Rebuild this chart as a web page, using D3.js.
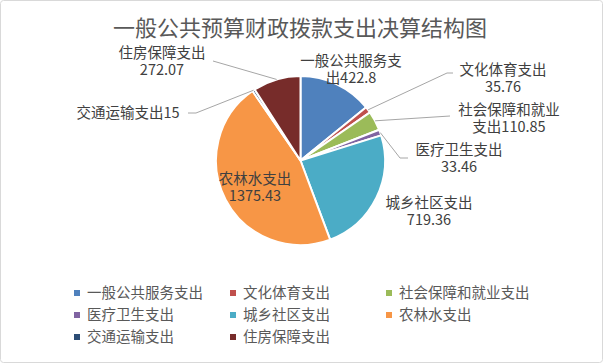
<!DOCTYPE html>
<meta charset="utf-8">
<style>
  body { margin: 0; background: #fff; }
  text { font-family: "Noto Sans CJK SC", "Noto Sans", sans-serif; }
  .title { font-size: 22px; fill: #595959; text-anchor: middle; }
  .label { font-size: 14.5px; fill: #404040; text-anchor: middle; }
  .legend text { font-size: 14.5px; fill: #595959; }
  .leader { fill: none; stroke: #a6a6a6; stroke-width: 1px; }
</style>
<svg width="603" height="363"></svg>
<script src="https://d3js.org/d3.v7.min.js"></script>
<script>

  var categories = ["一般公共服务支出", "文化体育支出", "社会保障和就业支出", "医疗卫生支出",
                    "城乡社区支出", "农林水支出", "交通运输支出", "住房保障支出"];
  var values = [422.8, 35.76, 110.85, 33.46, 719.36, 1375.43, 15, 272.07];
  var colors = ["#4f81bd", "#c0504d", "#9bbb59", "#8064a2", "#4bacc6", "#f79646", "#2c4d75", "#772c2a"];

  // where each data label wraps (character index in "name+value"), -1 = one line
  var labelBreak = [7, 6, 7, 6, 6, 5, -1, 6];
  // first-line anchor of each label, and end of its leader line (null = no line)
  var labelPos = [[351, 66], [503, 75], [509, 115], [459, 155], [429, 208], [255, 184], [128, 118], [162, 58]];
  var leaderEnd = [null, [447, 73, 453], [450, 116, 450], [400, 158, 408], null, null, [196, 113, 188], [213, 61, 213]];

  var svg = d3.select("svg"),
      cx = 300.5, cy = 160.5, radius = 84.5;

  svg.append("rect")
      .attr("x", 0.5).attr("y", 0.5)
      .attr("width", 602).attr("height", 362)
      .attr("rx", 3)
      .attr("fill", "#fff")
      .attr("stroke", "#d9d9d9");

  svg.append("text")
      .attr("class", "title")
      .attr("x", 300).attr("y", 36)
      .text("一般公共预算财政拨款支出决算结构图");

  var pie = d3.pie().sort(null).value(function(d) { return d; });
  var arcs = pie(values);
  var arc = d3.arc().innerRadius(0).outerRadius(radius);

  var g = svg.append("g").attr("transform", "translate(" + cx + "," + cy + ")");

  g.selectAll("path")
      .data(arcs)
      .enter().append("path")
      .attr("d", arc)
      .attr("fill", function(d, i) { return colors[i]; })
      .attr("stroke", "#fff")
      .attr("stroke-width", 2)
      .attr("stroke-linejoin", "round");

  // leader lines: from the slice edge at mid-angle to the label
  arcs.forEach(function(d, i) {
    var e = leaderEnd[i];
    if (!e) return;
    var a = (d.startAngle + d.endAngle) / 2,
        px = cx + radius * Math.sin(a),
        py = cy - radius * Math.cos(a);
    svg.append("path")
        .attr("class", "leader")
        .attr("d", "M" + px + "," + py + "L" + e[0] + "," + e[1] + "L" + e[2] + "," + e[1]);
  });

  categories.forEach(function(name, i) {
    var s = name + values[i],
        lines = labelBreak[i] < 0 ? [s] : [s.slice(0, labelBreak[i]), s.slice(labelBreak[i])];
    var t = svg.append("text")
        .attr("class", "label")
        .attr("x", labelPos[i][0]).attr("y", labelPos[i][1]);
    lines.forEach(function(l, j) {
      t.append("tspan")
          .attr("x", labelPos[i][0])
          .attr("dy", j ? 17 : 0)
          .text(l);
    });
  });

  var legendX = [77, 233, 389], legendY = [293, 315, 337];
  var legend = svg.append("g").attr("class", "legend");
  var item = legend.selectAll("g")
      .data(categories)
      .enter().append("g")
      .attr("transform", function(d, i) {
        return "translate(" + legendX[i % 3] + "," + legendY[Math.floor(i / 3)] + ")";
      });
  item.append("rect")
      .attr("x", -3).attr("y", -3)
      .attr("width", 6).attr("height", 6)
      .attr("fill", function(d, i) { return colors[i]; });
  item.append("text")
      .attr("x", 10).attr("y", 5)
      .text(function(d) { return d; });

</script>
